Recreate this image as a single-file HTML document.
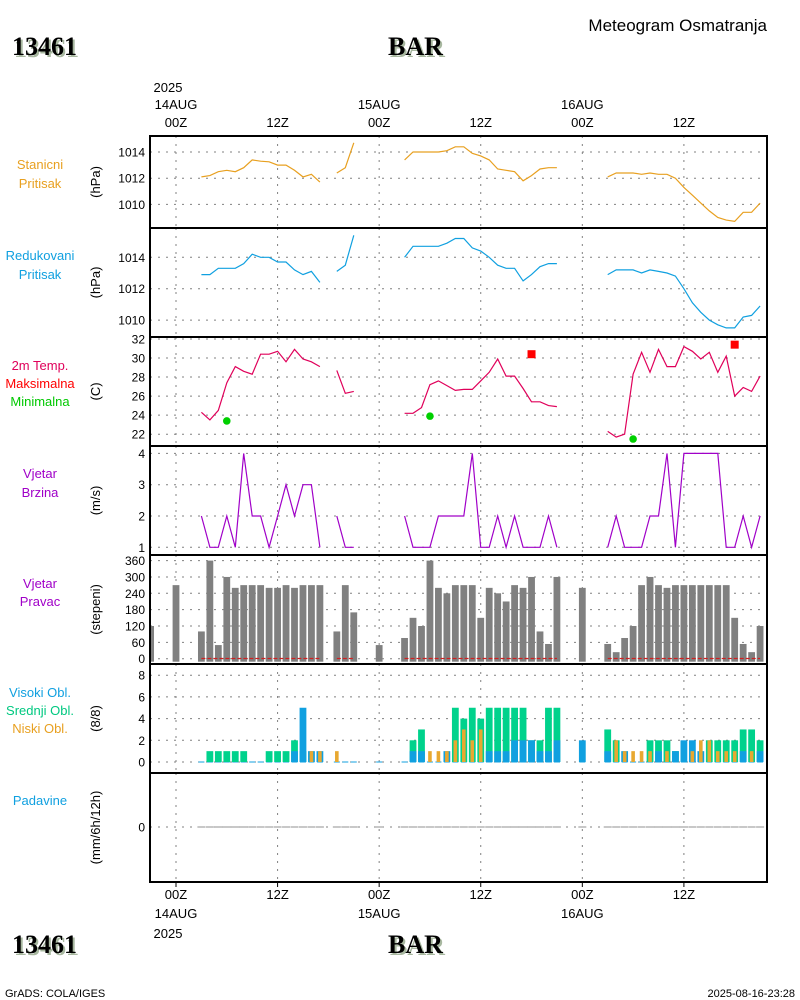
<!DOCTYPE html>
<html><head><meta charset="utf-8"><style>
html,body{margin:0;padding:0;background:#fff;}
svg{display:block;font-family:"Liberation Sans",sans-serif;}
</style></head><body>
<svg id="c" width="800" height="1000" viewBox="0 0 800 1000" xmlns="http://www.w3.org/2000/svg">
<g font-family="Liberation Serif,serif" font-weight="bold" font-size="26">
<text x="14" y="57" fill="#a8b8a0">13461</text>
<text x="12" y="55" fill="#000">13461</text>
<text x="390" y="57" fill="#a8b8a0">BAR</text>
<text x="388" y="55" fill="#000">BAR</text>
<text x="14" y="955" fill="#a8b8a0">13461</text>
<text x="12" y="953" fill="#000">13461</text>
<text x="390" y="955" fill="#a8b8a0">BAR</text>
<text x="388" y="953" fill="#000">BAR</text>
</g>
<text x="767" y="31" text-anchor="end" font-size="17">Meteogram Osmatranja</text>
<text x="5" y="997" font-size="11">GrADS: COLA/IGES</text>
<text x="795" y="997" text-anchor="end" font-size="11">2025-08-16-23:28</text>
<g id="plot"></g>
</svg>
<script>
const hours=[];for(let h=-3;h<=69;h++)hours.push(h);
const N=null;
// station pressure, hours 3..69
const stanPres=[1012.1,1012.2,1012.5,1012.6,1012.5,1012.8,1013.4,1013.3,1013.25,1013.0,1013.0,1012.6,1012.1,1012.3,1011.7,N,1012.4,1012.8,1014.7,N,N,N,N,N,1013.4,1014.0,1014.0,1014.0,1014.0,1014.1,1014.4,1014.4,1013.9,1013.7,1013.4,1012.7,1012.6,1012.5,1011.8,1012.2,1012.7,1012.8,1012.8,N,N,N,N,N,1012.1,1012.4,1012.4,1012.4,1012.3,1012.4,1012.3,1012.3,1012.0,1011.3,1010.7,1010.1,1009.5,1009.0,1008.8,1008.7,1009.4,1009.4,1010.1];
const redPres=[1012.9,1012.9,1013.3,1013.3,1013.3,1013.6,1014.2,1014.0,1014.0,1013.7,1013.7,1013.2,1012.9,1013.1,1012.4,N,1013.1,1013.5,1015.4,N,N,N,N,N,1014.0,1014.7,1014.7,1014.7,1014.7,1014.9,1015.2,1015.2,1014.6,1014.4,1014.0,1013.5,1013.3,1013.3,1012.5,1012.9,1013.4,1013.6,1013.6,N,N,N,N,N,1012.9,1013.2,1013.2,1013.2,1013.0,1013.2,1013.1,1013.0,1012.8,1012.0,1011.1,1010.5,1010.0,1009.7,1009.5,1009.5,1010.2,1010.3,1010.9];
const temp=[24.3,23.5,24.5,27.4,29.1,28.6,28.3,30.4,30.4,30.7,29.6,30.9,29.9,29.6,29.1,N,28.7,26.3,26.5,N,N,N,N,N,24.2,24.2,24.8,27.2,27.6,27.1,26.6,26.7,26.7,27.6,28.5,29.9,28.1,28.1,26.8,25.4,25.4,25.0,24.9,N,N,N,N,N,22.3,21.7,22.0,28.3,30.6,28.5,30.9,29.1,29.1,31.2,30.7,29.9,30.6,28.5,30.2,26.0,26.9,26.5,28.1];
const tmaxHours=[42,66];const tmaxVals=[30.4,31.4];
const tminHours=[6,30,54];const tminVals=[23.4,23.9,21.5];
const windSpd=[2,1,1,2,1,4,2,2,1,2,3,2,3,3,1,N,2,1,1,N,N,N,N,N,2,1,1,1,2,2,2,2,4,1,1,2,1,2,1,1,1,2,1,N,N,N,N,N,1,2,1,1,1,2,2,4,1,4,4,4,4,4,1,1,2,1,2];
// wind direction, hours -3..69
const windDir=[120,N,N,270,N,N,100,360,50,300,260,270,270,270,260,260,270,260,270,270,270,N,100,270,170,N,N,50,N,N,76,150,120,360,260,240,270,270,270,150,260,240,210,270,260,300,100,54,300,N,N,260,N,N,54,24,76,120,270,300,270,260,270,270,270,270,270,270,270,150,54,24,120];
// clouds, hours 3..69
const cloudLow=[0,0,0,0,0,0,0,0,0,0,0,0,0,1,1,N,1,0,0,N,N,0,N,N,0,0,0,1,1,1,2,3,2,3,0,0,0,0,0,0,0,0,0,N,N,0,N,N,0,2,1,1,1,1,0,1,0,0,1,2,2,1,1,1,0,1,0];
const cloudMid=[0,1,1,1,1,1,0,0,1,1,1,2,1,0,0,N,0,0,0,N,N,0,N,N,0,2,3,0,0,0,5,4,5,4,5,5,5,5,5,2,2,5,5,N,N,0,N,N,3,2,0,0,0,2,2,2,1,0,0,0,2,2,2,2,3,3,2];
const cloudHigh=[0,0,0,0,0,0,0,0,0,0,0,1,5,1,1,N,0,0,0,N,N,0,N,N,0,1,1,0,0,1,0,0,0,0,1,1,1,2,2,2,1,1,2,N,N,2,N,N,1,0,1,0,0,0,1,0,1,2,2,1,0,0,0,0,1,0,1];
const precip=[0,0,0,0,0,0,0,0,0,0,0,0,0,0,0,N,0,0,0,N,N,0,N,N,0,0,0,0,0,0,0,0,0,0,0,0,0,0,0,0,0,0,0,N,N,0,N,N,0,0,0,0,0,0,0,0,0,0,0,0,0,0,0,0,0,0,0];
const stanTicks=[1010,1012,1014],redTicks=[1010,1012,1014],tempTicks=[22,24,26,28,30,32],spdTicks=[1,2,3,4],dirTicks=[0,60,120,180,240,300,360],cloudTicks=[0,2,4,6,8],precipTicks=[0];
const timeTicks=[0,12,24,36,48,60];
const timeLabels=["00Z","12Z","00Z","12Z","00Z","12Z"];
const dayLabels={0:["14AUG","2025"],24:["15AUG"],48:["16AUG"]};

const NS="http://www.w3.org/2000/svg";
const plot=document.getElementById('plot');
function el(tag,attrs,parent){const e=document.createElementNS(NS,tag);for(const k in attrs)e.setAttribute(k,attrs[k]);(parent||plot).appendChild(e);return e;}
const X=h=>176+h*8.465;
const L=150,R=767;
const sub3=hours.filter(h=>h>=3);
const panels=[
 {t:136,b:228,y:v=>152+(1014-v)*13.1,ticks:stanTicks,unit:"(hPa)",name:"station-pressure"},
 {t:228,b:337,y:v=>257.3+(1014-v)*15.7,ticks:redTicks,unit:"(hPa)",name:"reduced-pressure"},
 {t:337,b:446,y:v=>358-(v-30)*9.53,ticks:tempTicks,unit:"(C)",name:"temperature"},
 {t:446,b:555,y:v=>547.3-(v-1)*31.3,ticks:spdTicks,unit:"(m/s)",name:"wind-speed"},
 {t:555,b:664,y:v=>658.7-v*0.2725,ticks:dirTicks,unit:"(stepeni)",name:"wind-direction"},
 {t:664,b:773,y:v=>762-v*10.85,ticks:cloudTicks,unit:"(8/8)",name:"cloud-cover"},
 {t:773,b:882,y:v=>827,ticks:precipTicks,unit:"(mm/6h/12h)",name:"precipitation"}
];
panels.forEach(p=>{
 const g=el('g',{});
 
 
 timeTicks.forEach(h=>{const l=el('line',{x1:X(h),x2:X(h),y1:p.t,y2:p.b,stroke:'#808080','stroke-dasharray':'2,6','stroke-width':1},g);
  });
 p.ticks.forEach(v=>{const y=p.y(v);
  const l=el('line',{x1:L,x2:R,y1:y,y2:y,stroke:'#808080','stroke-dasharray':'2,6','stroke-width':1},g);
  
  const t=el('text',{x:145,y:y+4.5,'text-anchor':'end','font-size':12},g);t.textContent=v;
  });
 const u=el('text',{x:0,y:0,'text-anchor':'middle','font-size':13,transform:`translate(100,${(p.t+p.b)/2}) rotate(-90)`},g);u.textContent=p.unit;
 
 p.g=g;
});
function line(vals,hs,yf,color,name){
 let d='',pen=false;
 vals.forEach((v,i)=>{if(v===null){pen=false;return;}d+=(pen?'L':'M')+X(hs[i]).toFixed(1)+','+yf(v).toFixed(1);pen=true;});
 const p=el('path',{d:d,fill:'none',stroke:color,'stroke-width':1.2});
 
}
line(stanPres,sub3,panels[0].y,'#e8a020','station-pressure-line');
line(redPres,sub3,panels[1].y,'#10a0e0','reduced-pressure-line');
line(temp,sub3,panels[2].y,'#e0005a','temperature-line');
tmaxHours.forEach((h,i)=>{const r=el('rect',{x:X(h)-4,y:panels[2].y(tmaxVals[i])-4,width:8,height:8,fill:'#ff0000'});
 });
tminHours.forEach((h,i)=>{const c=el('circle',{cx:X(h),cy:panels[2].y(tminVals[i]),r:3.8,fill:'#00d000'});
 });
line(windSpd,sub3,panels[3].y,'#a000c8','wind-speed-line');
const bw=6.8;
windDir.forEach((v,i)=>{if(v===null)return;const h=hours[i];const y=panels[4].y(v),y0=panels[4].y(0)+3;
 const x0=Math.max(L,X(h)-bw/2),x1=X(h)+bw/2;
 const r=el('rect',{x:x0,y:y,width:x1-x0,height:y0-y,fill:'#808080'});
 });
// calm reference dashed line
[[3,17],[19,21],[27,45],[51,69]].forEach(s=>{const l=el('line',{x1:X(s[0]),x2:X(s[1]),y1:658.5,y2:658.5,stroke:'#d02020','stroke-dasharray':'4,2','stroke-width':1.3});
 });
// clouds
const cy0=panels[5].y(0);
sub3.forEach((h,i)=>{
 const x=X(h);
 if(cloudMid[i]===null)return;
 const base=el('line',{x1:x-3,x2:x+3,y1:cy0,y2:cy0,stroke:'#10a0e0','stroke-width':1});
 
 if(cloudMid[i]>0){const r=el('rect',{x:x-bw/2,y:panels[5].y(cloudMid[i]),width:bw,height:cy0-panels[5].y(cloudMid[i]),fill:'#00d28c'});
  }
 if(cloudHigh[i]>0){const r=el('rect',{x:x-bw/2,y:panels[5].y(cloudHigh[i]),width:bw,height:cy0-panels[5].y(cloudHigh[i]),fill:'#10a0e0'});
  }
 if(cloudLow[i]>0){const r=el('rect',{x:x-1.8,y:panels[5].y(cloudLow[i]),width:3.6,height:cy0-panels[5].y(cloudLow[i]),fill:'#e8a830'});
  }
});
// precip
sub3.forEach((h,i)=>{if(precip[i]===null)return;
 const l=el('line',{x1:X(h)-4,x2:X(h)+4,y1:panels[6].y(precip[i]),y2:panels[6].y(precip[i]),stroke:'#909090','stroke-width':1});
 });
// borders
panels.forEach((p,i)=>{if(i>0){const l=el('line',{x1:L,x2:R,y1:p.t,y2:p.t,stroke:'#000','stroke-width':2});
 }});
const fr=el('rect',{x:L,y:136,width:R-L,height:882-136,fill:'none',stroke:'#000','stroke-width':2});

// time labels
timeTicks.forEach((h,i)=>{
 const x=X(h);
 const t=el('text',{x:x,y:127,'text-anchor':'middle','font-size':13});t.textContent=timeLabels[i];
 
 const b=el('text',{x:x,y:899,'text-anchor':'middle','font-size':13});b.textContent=timeLabels[i];
 
 const tk=el('line',{x1:x,x2:x,y1:882,y2:887,stroke:'#000'});
 
 if(dayLabels[h]){
  const d=el('text',{x:x,y:109,'text-anchor':'middle','font-size':13});d.textContent=dayLabels[h][0];
  
  const db=el('text',{x:x,y:918,'text-anchor':'middle','font-size':13});db.textContent=dayLabels[h][0];
  
  if(dayLabels[h][1]){
   const y=el('text',{x:x-8,y:92,'text-anchor':'middle','font-size':13});y.textContent=dayLabels[h][1];
   
   const yb=el('text',{x:x-8,y:938,'text-anchor':'middle','font-size':13});yb.textContent=dayLabels[h][1];
   
  }
 }
});
// left legends
const legends=[
 ["Stanicni",169,'#e8a020'],["Pritisak",188,'#e8a020'],
 ["Redukovani",260,'#10a0e0'],["Pritisak",279,'#10a0e0'],
 ["2m Temp.",370,'#e0005a'],["Maksimalna",388,'#ff0000'],["Minimalna",406,'#00c800'],
 ["Vjetar",478,'#a000c8'],["Brzina",497,'#a000c8'],
 ["Vjetar",588,'#a000c8'],["Pravac",606,'#a000c8'],
 ["Visoki Obl.",697,'#10a0e0'],["Srednji Obl.",715,'#00c880'],["Niski Obl.",733,'#e8a020'],
 ["Padavine",805,'#10a0e0']
];
legends.forEach(l=>{const t=el('text',{x:40,y:l[1],'text-anchor':'middle','font-size':13,fill:l[2]});t.textContent=l[0];
 });
</script>
</body></html>
